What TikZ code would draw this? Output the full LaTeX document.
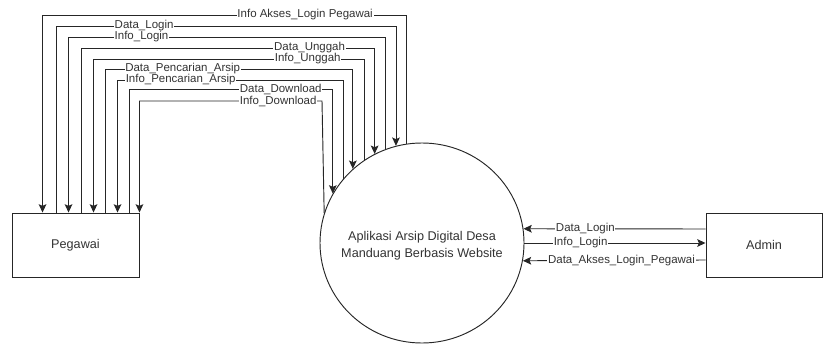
\documentclass[tikz,border=0pt]{standalone}
\usepackage{fontspec}
\setmainfont{Liberation Sans}
\usetikzlibrary{shapes.geometric, arrows.meta}

\begin{document}
\begin{tikzpicture}[
  x=0.03cm, y=-0.03cm,
  entity/.style={rectangle, draw=black!85, line width=0.8pt, fill=white,
                 minimum width=3.81cm, minimum height=1.92cm, align=center,
                 text=black!80, font=\fontsize{10.8}{13}\selectfont},
  process/.style={ellipse, draw=black!85, line width=0.8pt, fill=white,
                  minimum width=6.12cm, minimum height=6cm, inner sep=0pt},
  proctext/.style={align=center, text=black!80, font=\fontsize{10.8}{14.5}\selectfont},
  flow/.style={-{Stealth[length=2.5mm, width=2.3mm, inset=0.5mm]}, line width=0.8pt, black!85},
  lbl/.style={fill=white, inner sep=0.6pt, text=black!80,
              font=\fontsize{9.8}{11}\selectfont}
]
\useasboundingbox (0,0) rectangle (823,345);

\node[entity] (pegawai) at (75.5,245) {Pegawai};
\node[process, label={[proctext, yshift=-0.09cm]center:Aplikasi Arsip Digital Desa\\Manduang Berbasis Website}]
  (sistem) at (422,243) {};
\node[entity, minimum width=3.48cm] (admin) at (764,245) {Admin};

% Pegawai <-> sistem
\draw[flow] (sistem.99) -- (sistem.99 |- 0,15)
  -| node[lbl, pos=0.139] {Info Akses\_Login Pegawai} ([xshift=0.93cm]pegawai.north west);
\draw[flow] ([xshift=1.35cm]pegawai.north west)
  |- node[lbl, pos=0.629] {Data\_Login} (sistem.105 |- 0,26) -- (sistem.105);
\draw[flow] (sistem.111) -- (sistem.111 |- 0,37)
  -| node[lbl, pos=0.385] {Info\_Login} ([xshift=1.71cm]pegawai.north west);
\draw[flow] ([xshift=2.10cm]pegawai.north west)
  |- node[lbl, pos=0.889] {Data\_Unggah} (sistem.118 |- 0,48) -- (sistem.118);
\draw[flow] (sistem.125) -- (sistem.125 |- 0,59)
  -| node[lbl, pos=0.104] {Info\_Unggah} ([xshift=2.46cm]pegawai.north west);
\draw[flow] ([xshift=2.82cm]pegawai.north west)
  |- node[lbl, pos=0.656] {Data\_Pencarian\_Arsip} (sistem.133 |- 0,69) -- (sistem.133);
\draw[flow] (sistem.141) -- (sistem.141 |- 0,80)
  -| node[lbl, pos=0.36] {Info\_Pencarian\_Arsip} ([xshift=3.18cm]pegawai.north west);
\draw[flow] ([xshift=3.54cm]pegawai.north west)
  |- node[lbl, pos=0.872] {Data\_Download} (sistem.151 |- 0,89) -- (sistem.151);
\draw[flow] (sistem.163) -- (322,101)
  -| node[lbl, pos=0.12] {Info\_Download} (pegawai.north east);

% Admin <-> sistem
\draw[flow] ([yshift=0.48cm]admin.west) -- node[lbl, pos=0.66] {Data\_Login} (sistem.8);
\draw[flow] (sistem.east) -- node[lbl, pos=0.31] {Info\_Login} (sistem.east -| admin.west);
\draw[flow] ([yshift=-0.45cm]admin.west) -- node[lbl, pos=0.46] {Data\_Akses\_Login\_Pegawai} (sistem.350);

\end{tikzpicture}
\end{document}
